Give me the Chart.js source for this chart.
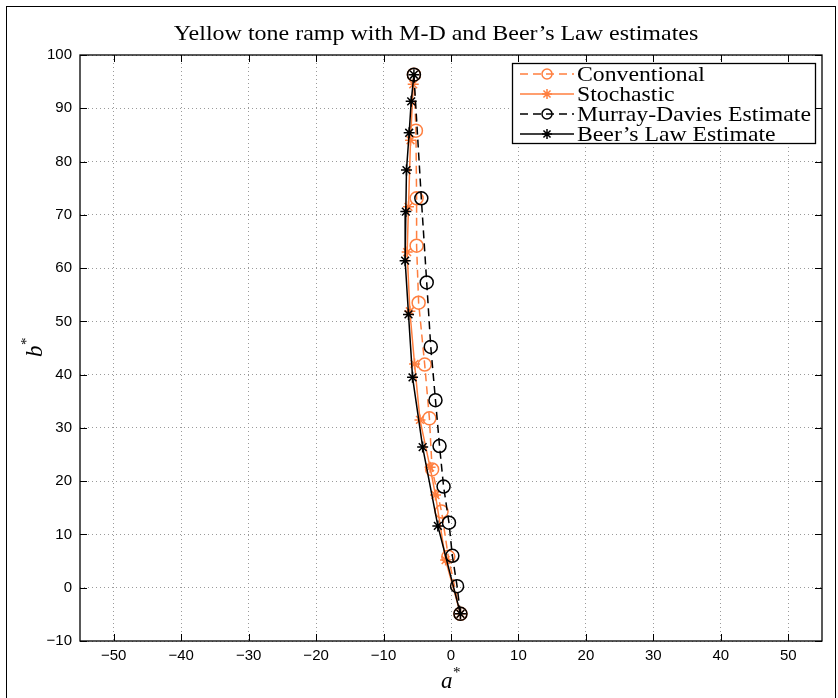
<!DOCTYPE html>
<html>
<head>
<meta charset="utf-8">
<script src="https://cdn.jsdelivr.net/npm/chart.js@4/dist/chart.umd.min.js"></script>
<style>
  html, body { margin: 0; background: #fff; }
  canvas { display: block; }
</style>
</head>
<body>
<canvas id="chart" width="838" height="698"></canvas>
<script>
// tick labels
const xTicks = [-50, -40, -30, -20, -10, 0, 10, 20, 30, 40, 50];
const yTicks = [-10, 0, 10, 20, 30, 40, 50, 60, 70, 80, 90, 100];

// series (a*, b*)
const conventionalA = [-5.5, -5.2, -5.1, -5.1, -4.8, -3.9, -3.2, -2.8, -1.4, -0.4, 1.4];
const conventionalB = [96.3, 85.8, 73.1, 64.2, 53.5, 41.9, 31.8, 22.2, 14.3, 5.8, -4.9];

const stochasticA = [-5.6, -6.0, -6.3, -6.5, -6.1, -5.4, -4.6, -3.1, -2.3, -0.8, 1.4];
const stochasticB = [94.5, 84.0, 71.5, 63.0, 51.9, 42.0, 31.5, 22.6, 17.4, 5.2, -4.9];

const murrayA = [-5.5, -4.4, -3.6, -3.0, -2.3, -1.7, -1.1, -0.3, 0.2, 0.9, 1.4];
const murrayB = [96.3, 73.1, 57.3, 45.2, 35.2, 26.6, 19.0, 12.2, 6.0, 0.3, -4.9];

const beerA = [-5.5, -5.9, -6.2, -6.6, -6.7, -6.8, -6.3, -5.7, -4.2, -1.95, 1.4];
const beerB = [96.3, 91.3, 85.4, 78.4, 70.6, 61.4, 51.3, 39.5, 26.4, 11.6, -4.9];

const ORANGE = "#ff7f3f";
const SERIF = "'Liberation Serif', serif";

function pts(xs, ys) {
  return xs.map((x, i) => ({ x, y: ys[i] }));
}

function fmt(v) {
  return v < 0 ? "\u2212" + Math.abs(v) : String(v);
}

function star(ctx, x, y, r) {
  ctx.beginPath();
  for (let k = 0; k < 4; k++) {
    const a = (k * Math.PI) / 4;
    ctx.moveTo(x - r * Math.cos(a), y - r * Math.sin(a));
    ctx.lineTo(x + r * Math.cos(a), y + r * Math.sin(a));
  }
  ctx.stroke();
}

// text stretched sideways a little, the reference uses a wide TeX font
function wideText(ctx, text, x, y, sx) {
  ctx.save();
  ctx.translate(x, y);
  ctx.scale(sx, 1);
  ctx.fillText(text, 0, 0);
  ctx.restore();
}

const legendItems = [
  { label: "Conventional", color: ORANGE, dash: [8, 5], marker: "circle" },
  { label: "Stochastic", color: ORANGE, dash: [], marker: "star" },
  { label: "Murray-Davies Estimate", color: "#000", dash: [8, 5], marker: "circle" },
  { label: "Beer\u2019s Law Estimate", color: "#000", dash: [], marker: "star" },
];

const matlabLook = {
  id: "matlabLook",
  afterDraw(chart) {
    const { ctx, chartArea: a, scales } = chart;
    ctx.save();

    // axes box + inside ticks
    ctx.strokeStyle = "#000";
    ctx.lineWidth = 1.3;
    ctx.setLineDash([]);
    ctx.strokeRect(a.left, a.top, a.right - a.left, a.bottom - a.top);
    ctx.lineWidth = 1;
    ctx.beginPath();
    xTicks.forEach((v) => {
      const px = Math.round(scales.x.getPixelForValue(v)) + 0.5;
      ctx.moveTo(px, a.bottom); ctx.lineTo(px, a.bottom - 7);
      ctx.moveTo(px, a.top); ctx.lineTo(px, a.top + 7);
    });
    yTicks.forEach((v) => {
      const py = Math.round(scales.y.getPixelForValue(v)) + 0.5;
      ctx.moveTo(a.left, py); ctx.lineTo(a.left + 7, py);
      ctx.moveTo(a.right, py); ctx.lineTo(a.right - 7, py);
    });
    ctx.stroke();

    // title
    ctx.fillStyle = "#000";
    ctx.textAlign = "center";
    ctx.textBaseline = "alphabetic";
    ctx.font = "22px " + SERIF;
    wideText(ctx, "Yellow tone ramp with M-D and Beer\u2019s Law estimates", 436, 40, 1.09);

    // axis labels
    ctx.font = "italic 23px " + SERIF;
    ctx.textAlign = "left";
    ctx.fillText("a", 441, 688);
    ctx.font = "15px " + SERIF;
    ctx.fillText("*", 453, 677);
    ctx.save();
    ctx.translate(42, 357);
    ctx.rotate(-Math.PI / 2);
    ctx.font = "italic 23px " + SERIF;
    ctx.fillText("b", 0, 0);
    ctx.font = "15px " + SERIF;
    ctx.fillText("*", 12, -11);
    ctx.restore();

    // legend
    const lx = 512, ly = 63, lw = 303, lh = 80;
    ctx.fillStyle = "#fff";
    ctx.fillRect(lx, ly, lw, lh);
    ctx.strokeStyle = "#000";
    ctx.lineWidth = 1.3;
    ctx.strokeRect(lx + 0.5, ly + 0.5, lw, lh);
    ctx.font = "21px " + SERIF;
    ctx.textBaseline = "middle";
    legendItems.forEach((it, i) => {
      const y = ly + 11 + i * 20;
      ctx.strokeStyle = it.color;
      ctx.lineWidth = 1.5;
      ctx.setLineDash(it.dash);
      ctx.beginPath();
      ctx.moveTo(lx + 8, y); ctx.lineTo(lx + 62, y);
      ctx.stroke();
      ctx.setLineDash([]);
      if (it.marker === "circle") {
        ctx.beginPath();
        ctx.arc(lx + 35, y, 5, 0, Math.PI * 2);
        ctx.stroke();
      } else {
        star(ctx, lx + 35, y, 5);
      }
      ctx.fillStyle = "#000";
      wideText(ctx, it.label, lx + 65, y + 1, 1.13);
    });

    // figure border
    ctx.strokeStyle = "#000";
    ctx.lineWidth = 1;
    ctx.strokeRect(6.5, 6.5, 829, 800);
    ctx.restore();
  },
};

const gridOpts = {
  color: "#9a9a9a",
  lineWidth: 1,
  drawTicks: false,
  tickLength: 0,
};

new Chart(document.getElementById("chart"), {
  type: "scatter",
  data: {
    datasets: [
      {
        label: "Conventional",
        data: pts(conventionalA, conventionalB),
        borderColor: ORANGE,
        backgroundColor: "rgba(0,0,0,0)",
        borderDash: [8, 5],
        borderWidth: 1.5,
        showLine: true,
        pointStyle: "circle",
        pointRadius: 6.5,
        pointBorderWidth: 1.5,
        order: 4,
      },
      {
        label: "Stochastic",
        data: pts(stochasticA, stochasticB),
        borderColor: ORANGE,
        backgroundColor: "rgba(0,0,0,0)",
        borderWidth: 1.5,
        showLine: true,
        pointStyle: "star",
        pointRadius: 5.5,
        pointBorderWidth: 1.5,
        order: 3,
      },
      {
        label: "Murray-Davies Estimate",
        data: pts(murrayA, murrayB),
        borderColor: "#000",
        backgroundColor: "rgba(0,0,0,0)",
        borderDash: [8, 5],
        borderWidth: 1.5,
        showLine: true,
        pointStyle: "circle",
        pointRadius: 6.5,
        pointBorderWidth: 1.5,
        order: 2,
      },
      {
        label: "Beer\u2019s Law Estimate",
        data: pts(beerA, beerB),
        borderColor: "#000",
        backgroundColor: "rgba(0,0,0,0)",
        borderWidth: 1.5,
        showLine: true,
        pointStyle: "star",
        pointRadius: 5.5,
        pointBorderWidth: 1.5,
        order: 1,
      },
    ],
  },
  options: {
    responsive: false,
    animation: false,
    layout: { padding: { left: 0, top: 55, right: 16, bottom: 0 } },
    plugins: { legend: { display: false }, tooltip: { enabled: false } },
    scales: {
      x: {
        type: "linear",
        min: -55,
        max: 55,
        afterBuildTicks: (s) => { s.ticks = xTicks.map((v) => ({ value: v })); },
        afterFit: (s) => { s.height = 57; },
        border: { display: false, dash: [1, 3] },
        grid: gridOpts,
        ticks: {
          padding: 6,
          color: "#000",
          font: { family: "'Liberation Sans', Arial, sans-serif", size: 15 },
          callback: (v) => fmt(v),
          maxRotation: 0,
        },
      },
      y: {
        type: "linear",
        min: -10,
        max: 100,
        afterBuildTicks: (s) => { s.ticks = yTicks.map((v) => ({ value: v })); },
        afterFit: (s) => { s.width = 80; },
        border: { display: false, dash: [1, 3] },
        grid: gridOpts,
        ticks: {
          padding: 8,
          color: "#000",
          font: { family: "'Liberation Sans', Arial, sans-serif", size: 15 },
          callback: (v) => fmt(v),
        },
      },
    },
  },
  plugins: [matlabLook],
});
</script>
</body>
</html>
